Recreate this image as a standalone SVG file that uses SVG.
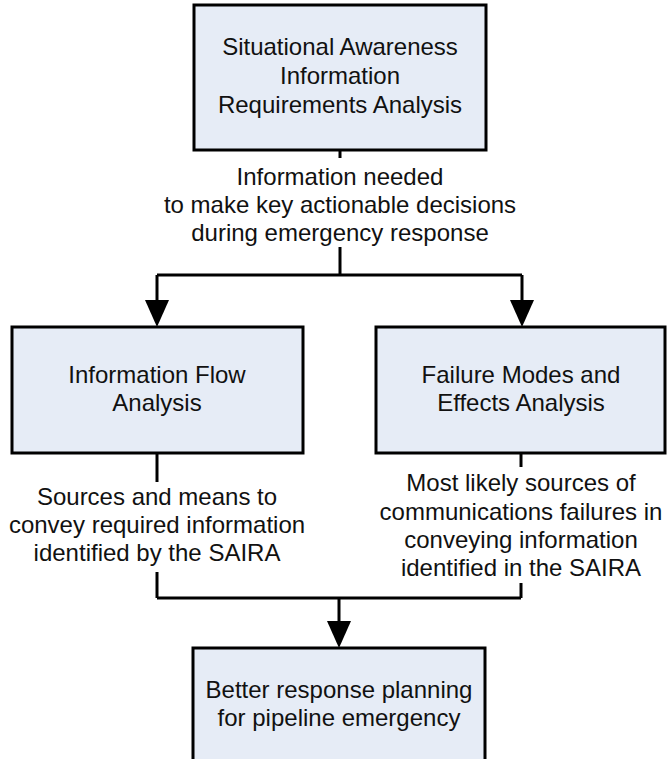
<svg xmlns="http://www.w3.org/2000/svg" width="667" height="759" viewBox="0 0 667 759">
<style>
.box{fill:#e6ecf6;stroke:#000;stroke-width:3}
.t{font-family:"Liberation Sans",Arial,sans-serif;font-size:24px;fill:#111;text-anchor:middle}
.c{fill:none;stroke:#000;stroke-width:3}
</style>
<defs>
<marker id="ah" markerUnits="userSpaceOnUse" markerWidth="26" markerHeight="28" refX="13" refY="27" orient="auto-start-reverse" viewBox="0 0 26 28">
<path d="M1,0 L25,0 L13,27 Z" fill="#000"/>
</marker>
</defs>
<rect width="667" height="759" fill="#fff"/>
<g id="connectors">
<path class="c" d="M340,150 V158"/>
<path class="c" d="M340,247 V275"/>
<path class="c" d="M157,275 H522"/>
<path class="c" d="M157,275 V300"/>
<path class="c" d="M522,275 V300"/>
<path d="M145,300 L169,300 L157,327 Z" fill="#000"/>
<path d="M510,300 L534,300 L522,327 Z" fill="#000"/>
<path class="c" d="M157,453 V482"/>
<path class="c" d="M157,572 V598"/>
<path class="c" d="M521,453 V467"/>
<path class="c" d="M521,583 V598"/>
<path class="c" d="M157,598 H521"/>
<path class="c" d="M339,598 V622"/>
<path d="M327,621 L351,621 L339,648 Z" fill="#000"/>
<text class="t" x="340"><tspan x="340" y="185">Information needed</tspan><tspan x="340" y="213">to make key actionable decisions</tspan><tspan x="340" y="241">during emergency response</tspan></text>
<text class="t"><tspan x="157" y="505">Sources and means to</tspan><tspan x="157" y="533">convey required information</tspan><tspan x="157" y="561">identified by the SAIRA</tspan></text>
<text class="t"><tspan x="521" y="491">Most likely sources of</tspan><tspan x="521" y="520">communications failures in</tspan><tspan x="521" y="548">conveying information</tspan><tspan x="521" y="576">identified in the SAIRA</tspan></text>
</g>
<g id="saira">
<rect class="box" x="194" y="5" width="292" height="145"/>
<text class="t"><tspan x="340" y="55">Situational Awareness</tspan><tspan x="340" y="84">Information</tspan><tspan x="340" y="113">Requirements Analysis</tspan></text>
</g>
<g id="ifa">
<rect class="box" x="12" y="327" width="291" height="126"/>
<text class="t"><tspan x="157" y="383">Information Flow</tspan><tspan x="157" y="411">Analysis</tspan></text>
</g>
<g id="fmea">
<rect class="box" x="376" y="327" width="289" height="126"/>
<text class="t"><tspan x="521" y="383">Failure Modes and</tspan><tspan x="521" y="411">Effects Analysis</tspan></text>
</g>
<g id="better">
<rect class="box" x="193" y="648" width="292" height="130"/>
<text class="t"><tspan x="339" y="698">Better response planning</tspan><tspan x="339" y="726">for pipeline emergency</tspan></text>
</g>
</svg>
